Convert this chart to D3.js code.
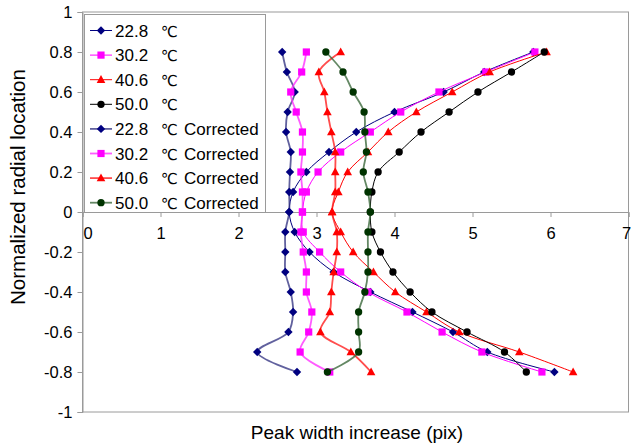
<!DOCTYPE html>
<html>
<head>
<meta charset="utf-8">
<script src="https://cdn.jsdelivr.net/npm/d3@7"></script>
<style>
  html, body { margin: 0; padding: 0; background: #fff; }
  svg { display: block; font-family: "Liberation Sans", Arial, sans-serif; }
</style>
</head>
<body>
<svg id="chart" width="632" height="448"></svg>
<script>
// Radial positions shared by every series (top to bottom)
const radialLocation = [0.8, 0.7, 0.6, 0.5, 0.4, 0.3, 0.2, 0.1, 0, -0.1, -0.2, -0.3, -0.4, -0.5, -0.6, -0.7, -0.8];

// Peak width increase (pix), raw measurements
const raw228 = [5.78, 5.15, 4.63, 4.00, 3.51, 3.16, 2.87, 2.70, 2.65, 2.72, 2.91, 3.22, 3.69, 4.23, 4.75, 5.19, 6.05];
const raw302 = [5.80, 5.17, 4.57, 4.08, 3.69, 3.31, 3.02, 2.87, 2.82, 2.83, 3.04, 3.31, 3.66, 4.16, 4.61, 5.12, 5.89];
const raw406 = [5.95, 5.22, 4.74, 4.28, 3.92, 3.66, 3.40, 3.28, 3.20, 3.31, 3.47, 3.73, 4.01, 4.41, 4.83, 5.60, 6.29];
const raw500 = [5.92, 5.50, 5.07, 4.70, 4.34, 4.06, 3.79, 3.71, 3.69, 3.71, 3.82, 3.98, 4.20, 4.48, 4.93, 5.41, 5.69];

// Peak width increase (pix), corrected
const cor228 = [2.56, 2.62, 2.72, 2.63, 2.61, 2.67, 2.66, 2.65, 2.65, 2.60, 2.60, 2.60, 2.67, 2.70, 2.64, 2.24, 2.75];
const cor302 = [2.87, 2.81, 2.67, 2.74, 2.82, 2.82, 2.80, 2.82, 2.82, 2.80, 2.83, 2.87, 2.87, 2.94, 2.90, 2.79, 3.17];
const cor406 = [3.31, 3.03, 3.10, 3.14, 3.19, 3.24, 3.24, 3.24, 3.20, 3.26, 3.26, 3.22, 3.19, 3.17, 3.05, 3.44, 3.70];
const cor500 = [3.12, 3.34, 3.47, 3.61, 3.62, 3.64, 3.60, 3.66, 3.69, 3.66, 3.66, 3.66, 3.62, 3.54, 3.54, 3.54, 3.14];

const temperatures = ["22.8", "30.2", "40.6", "50.0", "22.8", "30.2", "40.6", "50.0"];
const suffixes = ["", "", "", "", "Corrected", "Corrected", "Corrected", "Corrected"];

const xTicks = [0, 1, 2, 3, 4, 5, 6, 7];
const yTicks = [1, 0.8, 0.6, 0.4, 0.2, 0, -0.2, -0.4, -0.6, -0.8, -1];

const xTitle = "Peak width increase (pix)";
const yTitle = "Normalized radial location";

// Drawing styles for each series, in legend order
const styles = [
  { marker: "diamond",  fill: "#000080", line: "#000080", width: 1,   opacity: 1 },
  { marker: "square",   fill: "#ff00ff", line: "#ff00ff", width: 1,   opacity: 1 },
  { marker: "triangle", fill: "#ff0000", line: "#ff0000", width: 1,   opacity: 1 },
  { marker: "circle",   fill: "#000000", line: "#000000", width: 1,   opacity: 1 },
  { marker: "diamond",  fill: "#000080", line: "#3a3a86", width: 1.8, opacity: 0.8 },
  { marker: "square",   fill: "#ff00ff", line: "#ff33ff", width: 1.8, opacity: 0.8 },
  { marker: "triangle", fill: "#ff0000", line: "#ff2020", width: 1.8, opacity: 0.8 },
  { marker: "circle",   fill: "#003300", line: "#3d6a3d", width: 1.8, opacity: 0.8 }
];

const seriesValues = [raw228, raw302, raw406, raw500, cor228, cor302, cor406, cor500];

const svg = d3.select("#chart");
const plot = { left: 82.5, right: 628.5, top: 12, bottom: 412 };

const x = d3.scaleLinear().domain([0, 7]).range([plot.left, plot.right]);
const y = d3.scaleLinear().domain([-1, 1]).range([plot.bottom, plot.top]);

const fmt = d => String(+d.toFixed(1));

// Plot frame
svg.append("rect")
  .attr("x", plot.left).attr("y", plot.top)
  .attr("width", plot.right - plot.left).attr("height", plot.bottom - plot.top)
  .attr("fill", "#fff").attr("stroke", "#9a9a9a").attr("stroke-width", 1);

// Y axis along the left edge
const yAxis = svg.append("g")
  .attr("transform", `translate(${plot.left},0)`)
  .call(d3.axisLeft(y).tickValues(yTicks).tickFormat(fmt).tickSize(5).tickPadding(5));
yAxis.select(".domain").attr("stroke", "#9a9a9a");
yAxis.selectAll(".tick line").attr("stroke", "#9a9a9a");
yAxis.selectAll(".tick text")
  .attr("font-size", 16.5).attr("fill", "#000")
  .attr("font-family", "'Liberation Sans', Arial, sans-serif");

// X axis crossing at zero; end labels nudged inside the frame
const xAxis = svg.append("g")
  .attr("transform", `translate(0,${y(0)})`)
  .call(d3.axisBottom(x).tickValues(xTicks).tickFormat(fmt).tickSize(5).tickPadding(10));
xAxis.select(".domain").attr("stroke", "#9a9a9a");
xAxis.selectAll(".tick line").attr("stroke", "#9a9a9a");
xAxis.selectAll(".tick text")
  .attr("font-size", 16.5).attr("fill", "#000")
  .attr("font-family", "'Liberation Sans', Arial, sans-serif")
  .attr("dx", d => d === 0 ? 5 : (d === 7 ? -2.5 : 0));

// Axis titles
svg.append("text")
  .attr("x", 357).attr("y", 439)
  .attr("text-anchor", "middle").attr("font-size", 19)
  .text(xTitle);
svg.append("text")
  .attr("transform", `translate(25,187) rotate(-90)`)
  .attr("text-anchor", "middle").attr("font-size", 20.5)
  .text(yTitle);

// Marker shapes
function markerPath(kind) {
  switch (kind) {
    case "diamond":  return "M0,-4.2L4.2,0L0,4.2L-4.2,0Z";
    case "square":   return "M-3.6,-3.6H3.6V3.6H-3.6Z";
    case "triangle": return "M0,-4.6L4.3,3.2H-4.3Z";
    default:         return d3.symbol(d3.symbolCircle, 42)();
  }
}

const line = d3.line()
  .x(d => x(d.v))
  .y(d => y(d.r))
  .curve(d3.curveCatmullRom.alpha(0.5));

const series = seriesValues.map((vals, i) => ({
  style: styles[i],
  points: vals.map((v, j) => ({ v, r: radialLocation[j] }))
}));

const seriesG = svg.append("g");
series.forEach(s => {
  const g = seriesG.append("g");
  g.append("path")
    .datum(s.points)
    .attr("d", line)
    .attr("fill", "none")
    .attr("stroke", s.style.line)
    .attr("stroke-width", s.style.width)
    .attr("stroke-opacity", s.style.opacity);
  g.selectAll("path.mk")
    .data(s.points)
    .join("path")
    .attr("class", "mk")
    .attr("d", markerPath(s.style.marker))
    .attr("transform", d => `translate(${x(d.v)},${y(d.r)})`)
    .attr("fill", s.style.fill);
});

// Legend
const legend = svg.append("g");
legend.append("rect")
  .attr("x", 84.5).attr("y", 14.5).attr("width", 181).attr("height", 198)
  .attr("fill", "#fff").attr("stroke", "#9a9a9a").attr("stroke-width", 1);

temperatures.forEach((t, i) => {
  const cy = 30.5 + i * 24.6;
  const st = styles[i];
  legend.append("line")
    .attr("x1", 90).attr("x2", 112).attr("y1", cy).attr("y2", cy)
    .attr("stroke", st.line).attr("stroke-width", st.width).attr("stroke-opacity", st.opacity);
  legend.append("path")
    .attr("d", markerPath(st.marker))
    .attr("transform", `translate(101,${cy})`)
    .attr("fill", st.fill);
  const txt = legend.append("text")
    .attr("y", cy + 6).attr("font-size", 17);
  txt.append("tspan").attr("x", 115).text(t);
  txt.append("tspan").attr("x", 161)
    .attr("font-family", "'DejaVu Sans', sans-serif").attr("font-size", 15)
    .text("℃");
  if (suffixes[i]) txt.append("tspan").attr("x", 184).text(suffixes[i]);
});
</script>
</body>
</html>
